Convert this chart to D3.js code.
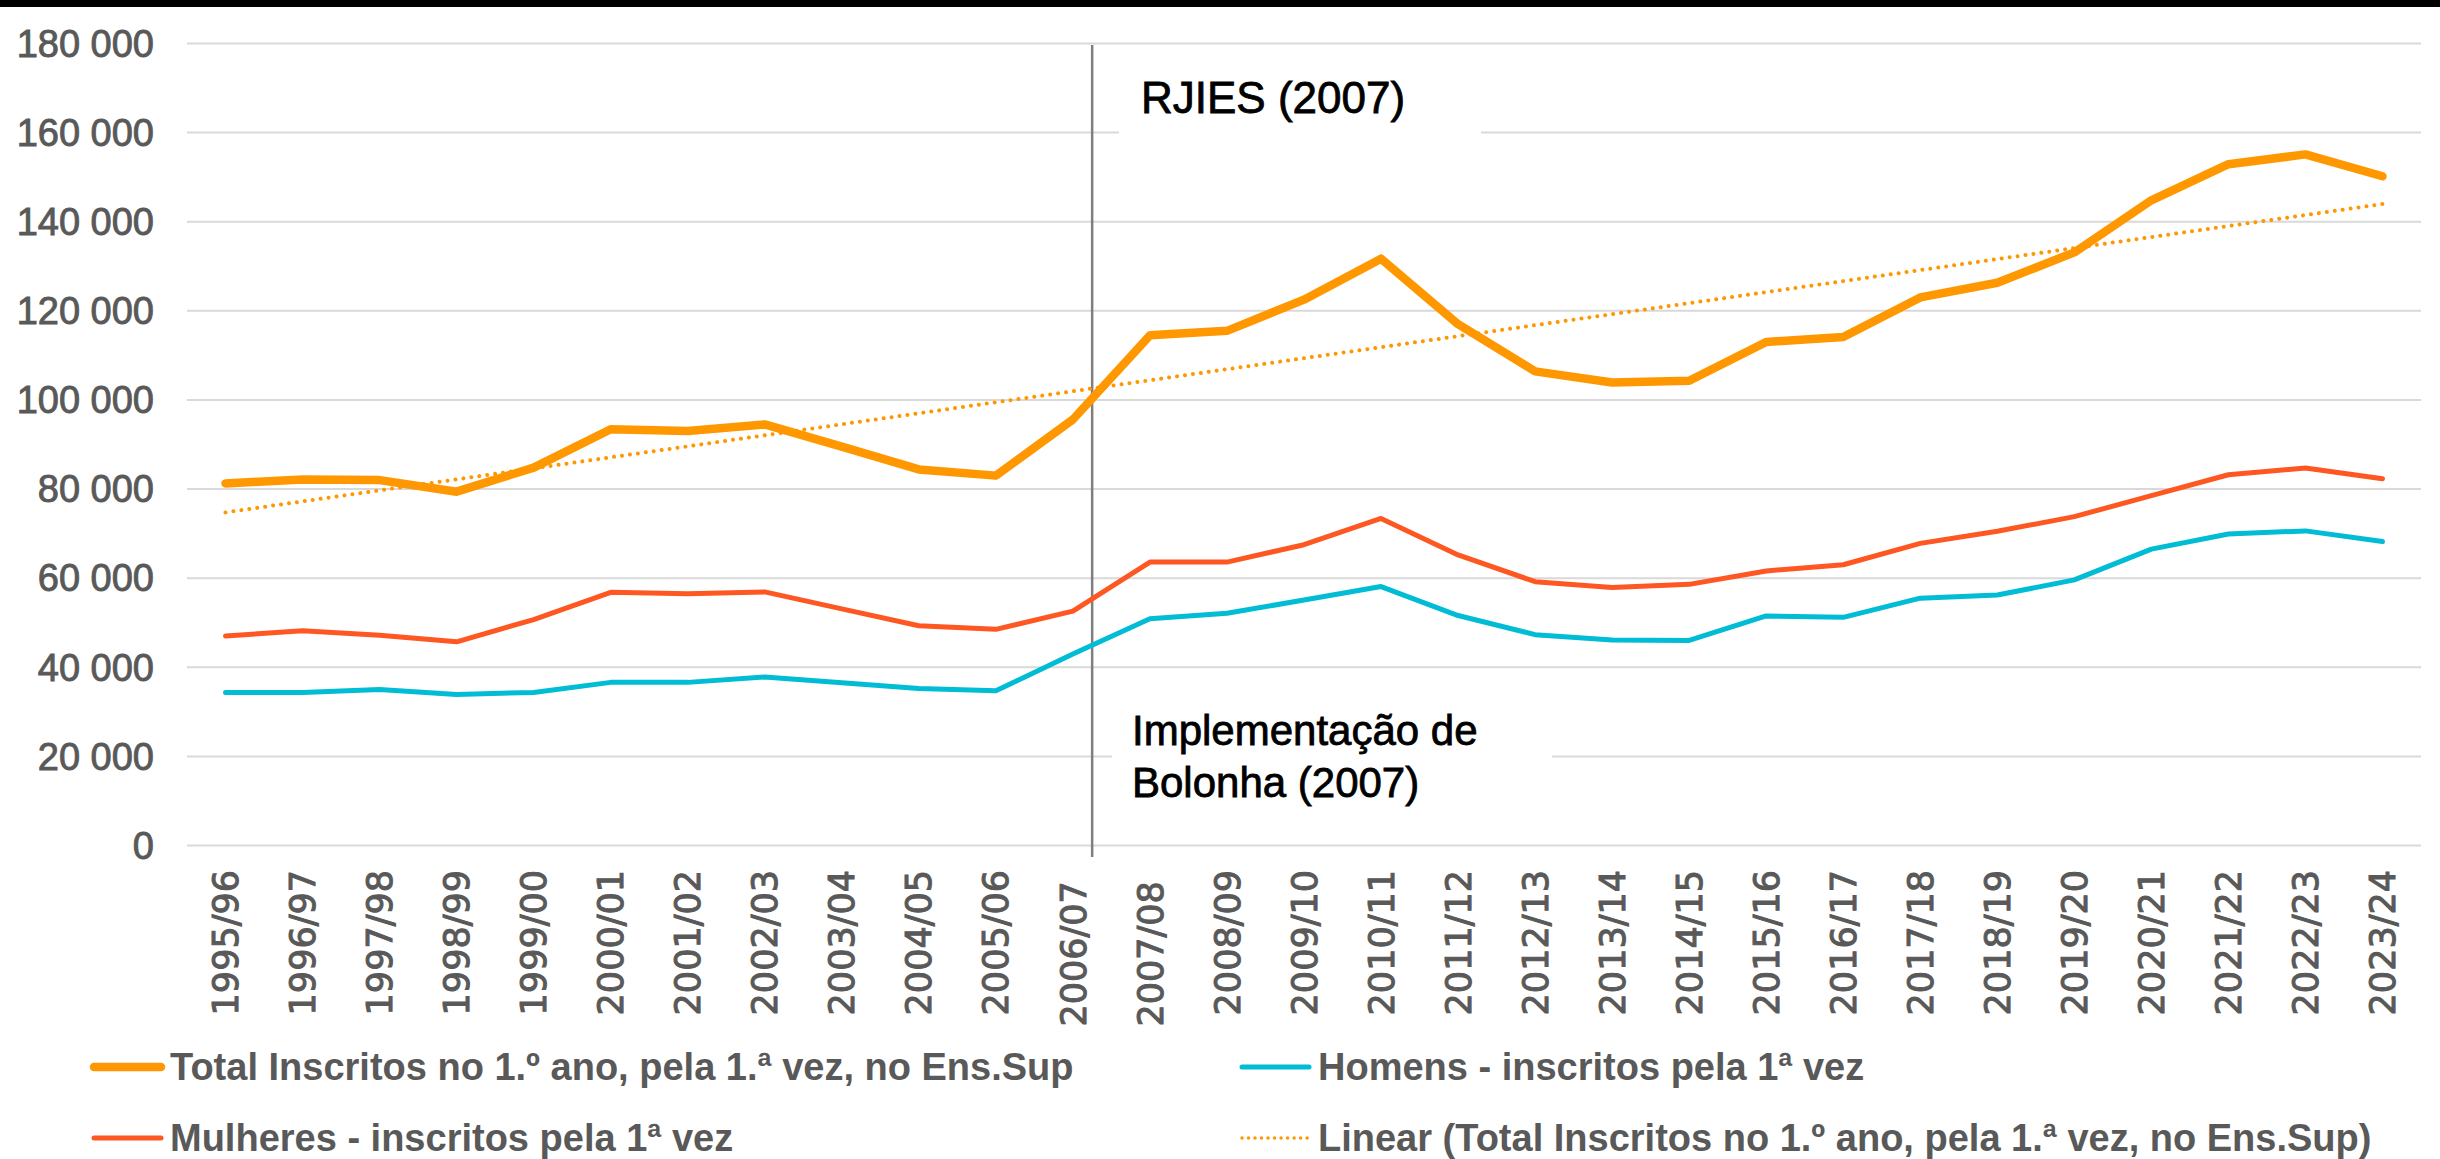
<!DOCTYPE html>
<html><head><meta charset="utf-8">
<script src="https://cdn.jsdelivr.net/npm/d3@7"></script>
<style>body{margin:0;background:#fff;} svg{display:block;} text{white-space:pre;}</style>
</head><body>
<script>
const categories = ["1995/96","1996/97","1997/98","1998/99","1999/00","2000/01","2001/02","2002/03","2003/04","2004/05","2005/06","2006/07 ","2007/08 ","2008/09","2009/10","2010/11","2011/12","2012/13","2013/14","2014/15","2015/16","2016/17","2017/18","2018/19","2019/20","2020/21","2021/22","2022/23","2023/24"];
const total = [81150, 82050, 81900, 79300, 84700, 93300, 92900, 94400, 89400, 84300, 82900, 95500, 114400, 115400, 122400, 131600, 116900, 106300, 103800, 104200, 112900, 114000, 122900, 126200, 133000, 144700, 152800, 155000, 150100];
const mulheres = [46900, 48100, 47100, 45600, 50600, 56700, 56400, 56800, 53000, 49200, 48400, 52500, 63500, 63500, 67400, 73300, 65100, 59100, 57800, 58500, 61500, 62900, 67700, 70400, 73700, 78400, 83100, 84600, 82200];
const homens = [34200, 34200, 34900, 33800, 34250, 36500, 36500, 37700, 36400, 35150, 34600, 42850, 50800, 52000, 55000, 58000, 51500, 47200, 46000, 45900, 51400, 51100, 55400, 56100, 59500, 66400, 69800, 70500, 68100];
const yTicks = [0, 20000, 40000, 60000, 80000, 100000, 120000, 140000, 160000, 180000];
const seriesNames = ["Total Inscritos no 1.º ano, pela 1.ª vez, no Ens.Sup", "Homens - inscritos pela 1ª vez", "Mulheres - inscritos pela 1ª vez", "Linear (Total Inscritos no 1.º ano, pela 1.ª vez, no Ens.Sup)"];
const annotationTop = "RJIES (2007)";
const annotationBottom = ["Implementação de", "Bolonha (2007)"];
const markerCategory = "2006/07 ";

const W = 2440, H = 1159;
const C_TOTAL = "#FF9800", C_MUL = "#FF5722", C_HOM = "#00BCD4", GRID = "#d9d9d9", TXT = "#595959";
const FONT = "'Liberation Sans', Arial, sans-serif";

const svg = d3.select("body").append("svg").attr("width", W).attr("height", H);
svg.append("rect").attr("width", W).attr("height", H).attr("fill", "#fff");
svg.append("rect").attr("width", W).attr("height", 7).attr("fill", "#000");

const left = 187, right = 2421;
const x = d3.scaleBand().domain(categories).range([left, right]);
const cx = c => x(c) + x.bandwidth() / 2;
const y = d3.scaleLinear().domain([0, 180000]).range([845, 43]);
const fmt = v => d3.format(",")(v).replace(/,/g, " ");

// Y axis with gridlines
const gy = svg.append("g").attr("transform", `translate(${left},0)`)
  .call(d3.axisLeft(y).tickValues(yTicks).tickSize(-(right - left)).tickPadding(33).tickFormat(fmt));
gy.select(".domain").remove();
gy.selectAll("line").attr("stroke", GRID).attr("stroke-width", 2);
gy.selectAll("text").attr("fill", TXT).attr("stroke", TXT).attr("stroke-width", 0.9)
  .style("font-family", FONT).style("font-size", "38px").attr("dy", "0.35em");

// X axis
const gx = svg.append("g").attr("transform", `translate(0,${y(0)})`)
  .call(d3.axisBottom(x).tickSize(0));
gx.select(".domain").remove();
gx.selectAll("text")
  .attr("transform", "rotate(-90)").attr("x", -25).attr("y", 0).attr("dy", "0.36em")
  .attr("text-anchor", "end").attr("fill", TXT).attr("stroke", TXT).attr("stroke-width", 1)
  .style("font-family", "'DejaVu Sans', sans-serif").style("font-size", "35px");

// vertical marker
const mx = cx(markerCategory) + 0.25 * x.step();
svg.append("line").attr("x1", mx).attr("x2", mx).attr("y1", 45).attr("y2", 857)
  .attr("stroke", "#7f7f7f").attr("stroke-width", 2.5);

// annotation boxes
svg.append("rect").attr("x", 1119).attr("y", 58).attr("width", 362).attr("height", 84).attr("fill", "#fff");
svg.append("rect").attr("x", 1112).attr("y", 695).attr("width", 440).attr("height", 120).attr("fill", "#fff");
svg.append("text").attr("x", 1141).attr("y", 113).text(annotationTop)
  .style("font-family", FONT).style("font-size", "44px").attr("fill", "#000")
  .attr("stroke", "#000").attr("stroke-width", 0.8);
const tb = svg.append("text").style("font-family", FONT).style("font-size", "42px").attr("fill", "#000")
  .attr("stroke", "#000").attr("stroke-width", 0.8);
annotationBottom.forEach((t, i) => tb.append("tspan").attr("x", 1132).attr("y", 745 + i * 52).text(t));

// lines
const line = d3.line().x((d, i) => cx(categories[i])).y(d => y(d));
const series = [
  {data: homens, color: C_HOM, w: 5},
  {data: mulheres, color: C_MUL, w: 5},
  {data: total, color: C_TOTAL, w: 8.5}
];
series.forEach(s => svg.append("path").datum(s.data).attr("d", line).attr("fill", "none")
  .attr("stroke", s.color).attr("stroke-width", s.w).attr("stroke-linejoin", "round").attr("stroke-linecap", "round"));

// linear trendline (least squares of total)
const n = total.length, idx = d3.range(n);
const mxi = d3.mean(idx), myv = d3.mean(total);
const slope = d3.sum(idx, i => (i - mxi) * (total[i] - myv)) / d3.sum(idx, i => (i - mxi) ** 2);
const icpt = myv - slope * mxi;
svg.append("line")
  .attr("x1", cx(categories[0])).attr("y1", y(icpt))
  .attr("x2", cx(categories[n - 1])).attr("y2", y(icpt + slope * (n - 1)))
  .attr("stroke", C_TOTAL).attr("stroke-width", 4).attr("stroke-linecap", "round")
  .attr("stroke-dasharray", "0.01 8");

// legend
const legend = [
  {name: seriesNames[0], color: C_TOTAL, w: 8.5, dash: null, x: 92, y: 1067},
  {name: seriesNames[1], color: C_HOM, w: 5, dash: null, x: 1240, y: 1067},
  {name: seriesNames[2], color: C_MUL, w: 5, dash: null, x: 92, y: 1138},
  {name: seriesNames[3], color: C_TOTAL, w: 3.5, dash: "0.01 6.5", x: 1240, y: 1138}
];
legend.forEach(l => {
  const g = svg.append("g");
  const ln = g.append("line").attr("x1", l.x + 2).attr("x2", l.x + 69).attr("y1", l.y).attr("y2", l.y)
    .attr("stroke", l.color).attr("stroke-width", l.w).attr("stroke-linecap", "round");
  if (l.dash) ln.attr("stroke-dasharray", l.dash);
  g.append("text").attr("x", l.x + 78).attr("y", l.y).attr("dy", "0.35em").text(l.name)
    .style("font-family", FONT).style("font-size", "38px").style("font-weight", "bold").attr("fill", TXT);
});
</script>
</body></html>
